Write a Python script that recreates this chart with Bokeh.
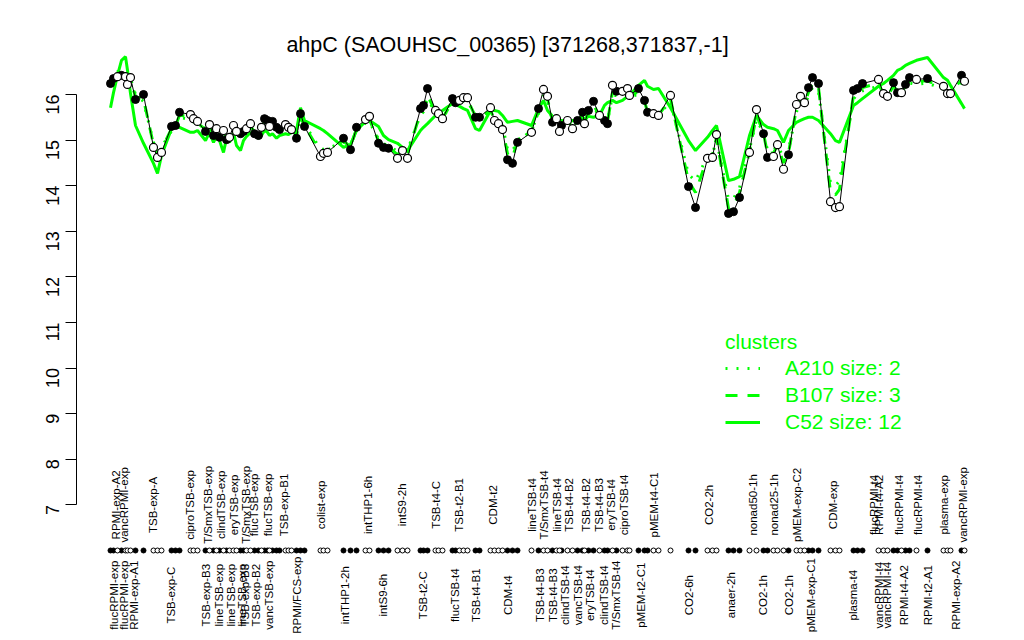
import math
from bokeh.plotting import figure
from bokeh.models import Range1d, LinearAxis, FixedTicker, Legend, LegendItem
from bokeh.core.properties import value
from bokeh.embed import file_html
from bokeh.resources import INLINE

title_text = "ahpC (SAOUHSC_00365) [371268,371837,-1]"

# position of each sample along the condition ordering
xpos = [110, 113, 117, 121, 125, 127, 130, 135, 143,
        153, 157, 161,
        171, 175, 179,
        190, 193, 197,
        205, 209, 213, 216, 219, 223, 226, 229, 233, 236, 240, 243, 246, 250, 254, 258, 261, 264, 267, 269, 272, 276, 279,
        285, 288, 291,
        296, 300, 304,
        320, 323, 327,
        343, 350, 356,
        365, 369,
        378, 383, 388,
        397, 402, 407,
        420, 423, 427,
        435, 438, 442,
        452, 455, 459, 463, 467, 475, 479,
        490, 494, 498, 502, 507, 512, 517,
        531, 538, 543, 547, 552, 556, 559, 561, 567, 572, 577, 582, 584, 588, 593, 599, 604, 607, 612, 616, 622, 627, 629,
        638, 644, 647, 653, 658, 670,
        688, 695,
        707, 712, 716,
        728, 733, 739,
        749, 756, 763, 767, 773, 777, 783, 788,
        796, 800, 804, 808, 812, 818,
        830, 835, 839,
        853, 857, 862,
        878, 883, 887, 893, 897, 901, 905, 909, 916,
        927,
        943, 947, 950,
        961, 964]

# expression of this gene
expr = [16.24, 16.35, 16.39, 16.42, 16.39, 16.22, 16.37, 15.89, 16.00,
        14.84, 14.62, 14.73,
        15.30, 15.32, 15.61,
        15.56, 15.47, 15.41,
        15.19, 15.34, 15.10, 15.25, 15.06, 15.21, 15.01, 15.06, 15.32, 15.19, 15.14, 15.19, 15.25, 15.36, 15.14, 15.10, 15.28, 15.47, 15.43, 15.30, 15.41, 15.28, 15.23,
        15.34, 15.28, 15.23,
        15.04, 15.58, 15.30,
        14.64, 14.71, 14.73,
        15.04, 14.79, 15.28,
        15.45, 15.52,
        14.93, 14.84, 14.82,
        14.60, 14.77, 14.60,
        15.69, 15.76, 16.13,
        15.65, 15.58, 15.47,
        15.91, 15.82, 15.87, 15.93, 15.93, 15.50, 15.50,
        15.71, 15.43, 15.36, 15.23, 14.57, 14.49, 14.95,
        15.17, 15.69, 16.11, 15.96, 15.39, 15.47, 15.19, 15.32, 15.43, 15.25, 15.43, 15.61, 15.36, 15.65, 15.85, 15.54, 15.43, 15.36, 16.20, 16.07, 16.07, 16.13, 15.98,
        16.13, 15.87, 15.61, 15.58, 15.54, 15.98,
        13.98, 13.52,
        14.60, 14.62, 15.12,
        13.39, 13.43, 13.74,
        14.73, 15.67, 15.14, 14.62, 14.64, 14.90, 14.36, 14.68,
        15.78, 15.96, 15.82, 16.15, 16.37, 16.24,
        13.65, 13.52, 13.54,
        16.09, 16.13, 16.24,
        16.33, 16.02, 15.96, 16.26, 16.04, 16.04, 16.22, 16.37, 16.33,
        16.35,
        16.18, 16.02, 16.02,
        16.42, 16.29]

# 1 = filled marker, 0 = open marker
filled = [1, 1, 0, 1, 0, 0, 0, 1, 1,
          0, 0, 0,
          1, 1, 1,
          0, 0, 0,
          1, 0, 1, 0, 1, 0, 1, 0, 0, 0, 1, 1, 0, 0, 1, 1, 0, 1, 1, 0, 1, 1, 1,
          0, 0, 0,
          1, 1, 1,
          0, 0, 0,
          1, 1, 1,
          0, 0,
          1, 1, 1,
          0, 0, 0,
          1, 1, 1,
          0, 0, 0,
          1, 1, 0, 0, 0, 1, 1,
          0, 0, 0, 0, 1, 1, 1,
          0, 1, 0, 0, 1, 0, 0, 1, 0, 0, 1, 1, 0, 1, 1, 0, 1, 1, 0, 1, 0, 0, 0,
          1, 1, 1, 0, 0, 0,
          1, 1,
          0, 0, 0,
          1, 1, 1,
          0, 0, 1, 1, 0, 0, 0, 1,
          0, 0, 0, 1, 1, 1,
          0, 0, 0,
          1, 1, 1,
          0, 0, 0, 1, 1, 0, 1, 1, 0,
          1,
          0, 0, 0,
          1, 0]

# cluster profiles
c52 = [15.71, 16.04, 16.42, 16.75, 16.83, 16.53, 16.02, 15.32, 14.93,
       14.49, 14.27, 14.66,
       15.25, 15.28, 15.28,
       15.17, 15.17, 15.21,
       14.99, 15.17, 14.95, 15.08, 14.99, 14.73, 15.04, 14.95, 15.17, 14.88, 14.77, 14.99, 15.08, 15.17, 15.10, 15.04, 15.10, 15.21, 15.17, 15.10, 15.14, 15.04, 15.10,
       15.14, 15.12, 15.17,
       15.21, 15.71, 15.43,
       15.25, 15.21, 15.14,
       14.84, 14.90, 15.21,
       15.41, 15.43,
       15.30, 15.10, 15.01,
       14.93, 14.84, 14.77,
       15.21, 15.28, 15.36,
       15.54, 15.58, 15.65,
       15.80, 15.78, 15.74, 15.69, 15.65, 15.25, 15.21,
       15.65, 15.65, 15.63, 15.54, 15.39, 15.41, 15.43,
       15.32, 15.69, 15.87, 15.65, 15.52, 15.43, 15.41, 15.43, 15.39, 15.43, 15.41, 15.47, 15.47, 15.52, 15.50, 15.54, 15.76, 15.82, 15.87, 15.82, 15.87, 15.96, 15.98,
       16.20, 16.31, 16.18, 16.11, 16.13, 15.71,
       14.99, 14.77,
       15.06, 15.21, 15.32,
       14.11, 14.14, 14.20,
       15.10, 15.54, 15.34, 15.28, 15.25, 15.21, 14.95, 15.21,
       15.39, 15.43, 15.47, 15.50, 15.50, 15.43,
       15.14, 14.99, 14.95,
       15.76, 15.82, 15.91,
       16.18, 16.24, 16.31, 16.42, 16.53, 16.57, 16.64, 16.68, 16.75,
       16.81,
       16.37, 16.31, 16.20,
       15.80, 15.69]

b107 = [16.20, 16.30, 16.45, 16.50, 16.42, 16.30, 16.33, 15.95, 15.90,
        14.90, 14.70, 14.80,
        15.25, 15.30, 15.55,
        15.50, 15.42, 15.38,
        15.22, 15.30, 15.12, 15.22, 15.10, 15.18, 15.05, 15.08, 15.28, 15.20, 15.15, 15.20, 15.22, 15.32, 15.15, 15.12, 15.25, 15.42, 15.40, 15.30, 15.38, 15.28, 15.25,
        15.30, 15.28, 15.25,
        15.10, 15.50, 15.32,
        14.72, 14.75, 14.78,
        14.98, 14.85, 15.25,
        15.42, 15.45,
        14.98, 14.88, 14.85,
        14.68, 14.78, 14.70,
        15.60, 15.70, 15.98,
        15.62, 15.55, 15.48,
        15.85, 15.80, 15.85, 15.88, 15.88, 15.52, 15.50,
        15.65, 15.45, 15.38, 15.28, 14.70, 14.62, 14.98,
        15.20, 15.62, 15.98, 15.90, 15.40, 15.45, 15.25, 15.32, 15.40, 15.28, 15.42, 15.55, 15.38, 15.60, 15.78, 15.52, 15.45, 15.40, 16.05, 16.02, 16.05, 16.08, 15.98,
        16.05, 15.85, 15.62, 15.55, 15.55, 15.90,
        14.10, 13.85,
        14.62, 14.68, 15.05,
        13.50, 13.55, 13.85,
        14.75, 15.55, 15.15, 14.70, 14.72, 14.88, 14.50, 14.72,
        15.70, 15.90, 15.80, 16.05, 16.25, 16.15,
        13.85, 13.80, 13.92,
        15.98, 16.08, 16.15,
        16.25, 16.00, 15.95, 16.20, 16.05, 16.05, 16.18, 16.30, 16.28,
        16.30,
        16.15, 16.05, 16.05,
        16.32, 16.25]

a210 = [16.30, 16.40, 16.50, 16.55, 16.45, 16.35, 16.35, 16.00, 15.85,
        14.95, 14.75, 14.85,
        15.20, 15.35, 15.50,
        15.45, 15.40, 15.35,
        15.25, 15.28, 15.15, 15.20, 15.12, 15.15, 15.08, 15.10, 15.25, 15.22, 15.18, 15.20, 15.20, 15.30, 15.18, 15.15, 15.22, 15.38, 15.38, 15.30, 15.35, 15.30, 15.28,
        15.28, 15.28, 15.28,
        15.15, 15.45, 15.35,
        14.80, 14.80, 14.82,
        14.95, 14.90, 15.20,
        15.38, 15.40,
        15.02, 14.92, 14.88,
        14.75, 14.80, 14.78,
        15.55, 15.62, 15.90,
        15.60, 15.55, 15.50,
        15.80, 15.78, 15.82, 15.85, 15.85, 15.55, 15.52,
        15.60, 15.48, 15.40, 15.32, 14.80, 14.75, 15.00,
        15.22, 15.58, 15.90, 15.85, 15.42, 15.45, 15.28, 15.33, 15.40, 15.30, 15.40, 15.50, 15.40, 15.55, 15.72, 15.52, 15.48, 15.42, 15.98, 15.98, 16.00, 16.02, 15.95,
        16.00, 15.82, 15.65, 15.55, 15.55, 15.85,
        14.25, 14.10,
        14.65, 14.70, 15.00,
        13.70, 13.72, 13.95,
        14.80, 15.45, 15.15, 14.78, 14.78, 14.88, 14.62, 14.78,
        15.62, 15.82, 15.75, 15.98, 16.15, 16.08,
        14.05, 14.00, 14.10,
        15.90, 16.02, 16.08,
        16.18, 15.98, 15.95, 16.15, 16.05, 16.05, 16.15, 16.25, 16.22,
        16.25,
        16.12, 16.05, 16.05,
        16.25, 16.22]

top_labels = ["RPMI-exp-A2", "vancRPMI-exp", "TSB-exp-A", "ciproTSB-exp", "T/SmxTSB-exp",
              "clindTSB-exp", "eryTSB-exp", "T/SmxTSB-exp", "flucTSB-exp", "flucTSB-exp",
              "TSB-exp-B1", "colist-exp", "intTHP1-6h", "intS9-2h", "TSB-t4-C", "TSB-t2-B1",
              "CDM-t2", "lineTSB-t4", "T/SmxTSB-t4", "lineTSB-t4", "TSB-t4-B2", "TSB-t4-B2",
              "TSB-t4-B3", "eryTSB-t4", "ciproTSB-t4", "pMEM-t4-C1", "CO2-2h", "nonad50-1h",
              "nonad25-1h", "pMEM-exp-C2", "CDM-exp", "flucRPMI-t4", "RPMI-t4-A2",
              "flucRPMI-t4", "flucRPMI-t4", "plasma-exp", "vancRPMI-exp"]
top_x = [115, 123, 152, 189, 207, 220, 233, 245, 253, 267, 283, 320, 367, 401, 435, 458,
         492, 531, 543, 556, 568, 585, 598, 610, 623, 653, 708, 752, 773, 796, 832, 873,
         878, 898, 917, 943, 962]

bottom_labels = ["flucRPMI-exp", "flucRPMI-exp", "RPMI-exp-A1", "TSB-exp-C", "TSB-exp-B3",
                 "lineTSB-exp", "lineTSB-exp", "lineTSB-exp", "TSB-exp-B3", "TSB-exp-B2",
                 "vancTSB-exp", "RPMI/FCS-exp", "intTHP1-2h", "intS9-6h", "TSB-t2-C",
                 "flucTSB-t4", "TSB-t4-B1", "CDM-t4", "TSB-t4-B3", "TSB-t4-B3", "clindTSB-t4",
                 "vancTSB-t4", "eryTSB-t4", "clindTSB-t4", "T/SmxTSB-t4", "pMEM-t2-C1",
                 "CO2-6h", "anaer-2h", "CO2-1h", "CO2-1h", "pMEM-exp-C1", "plasma-t4",
                 "vancRPMI-t4", "vancRPMI-t4", "RPMI-t4-A2", "RPMI-t2-A1", "RPMI-exp-A2"]
bottom_x = [113, 123, 133, 170, 205, 218, 230, 241, 244, 255, 268, 296, 344, 382, 422,
            454, 475, 507, 539, 552, 564, 577, 589, 603, 615, 640, 688, 730, 762, 788, 810,
            852, 878, 886, 903, 927, 955]

y_ticks = [7, 8, 9, 10, 11, 12, 13, 14, 15, 16]
cluster_names = ["A210 size: 2", "B107 size: 3", "C52 size: 12"]

n = len(xpos)
assert all(len(a) == n for a in (expr, filled, c52, b107, a210))
assert len(top_labels) == len(top_x) and len(bottom_labels) == len(bottom_x)

TOP_LEVEL, ROW_LEVEL, BOTTOM_LEVEL = 7, 6, 5.02
FONT = value("Liberation Sans")
GREEN = "#00FF00"

p = figure(width=1016, height=636, output_backend="svg", toolbar_location=None,
           x_range=Range1d(76, 1016), y_range=Range1d(4.114, 18.061),
           x_axis_type=None, y_axis_type=None,
           min_border_left=76, min_border_right=0, min_border_top=0, min_border_bottom=0)
p.outline_line_color = None
p.background_fill_color = "white"

ax = LinearAxis(ticker=FixedTicker(ticks=y_ticks), bounds=(7, 16))
ax.major_label_orientation = math.pi / 2
ax.major_tick_out = 11
ax.major_tick_in = 0
ax.minor_tick_line_color = None
ax.major_label_standoff = 13
ax.major_label_text_font = "Liberation Sans"
ax.major_label_text_font_size = "18px"
ax.major_label_text_color = "black"
ax.axis_line_color = "black"
ax.major_tick_line_color = "black"
p.add_layout(ax, "left")

# cluster lines
r_a = p.line(xpos, a210, line_color=GREEN, line_width=3, line_dash="2 9")
r_b = p.line(xpos, b107, line_color=GREEN, line_width=3, line_dash="12 10")
r_c = p.line(xpos, c52, line_color=GREEN, line_width=3)

# gene profile
p.line(xpos, expr, line_color="black", line_width=1)
fx = [x for x, f in zip(xpos, filled) if f]
fy = [y for y, f in zip(expr, filled) if f]
ox = [x for x, f in zip(xpos, filled) if not f]
oy = [y for y, f in zip(expr, filled) if not f]
p.scatter(fx, fy, size=8, fill_color="black", line_color="black", line_width=1)
p.scatter(ox, oy, size=8, fill_color="white", line_color="black", line_width=1.2)

# sample row
p.scatter(fx, [ROW_LEVEL] * len(fx), size=5, fill_color="black", line_color="black", line_width=1)
p.scatter(ox, [ROW_LEVEL] * len(ox), size=5, fill_color="white", line_color="black", line_width=1)

p.text(top_x, [TOP_LEVEL] * len(top_x), text=top_labels, angle=math.pi / 2,
       text_align="center", text_baseline="middle", text_font=FONT,
       text_font_size="11.5px", text_color="black")
p.text(bottom_x, [BOTTOM_LEVEL] * len(bottom_x), text=bottom_labels, angle=math.pi / 2,
       text_align="center", text_baseline="middle", text_font=FONT,
       text_font_size="11.5px", text_color="black")

# title
p.text([507], [17.075], text=[title_text], text_align="center", text_baseline="middle",
       text_font=FONT, text_font_size="21.5px", text_color="black")

legend = Legend(items=[LegendItem(label=cluster_names[0], renderers=[r_a]),
                       LegendItem(label=cluster_names[1], renderers=[r_b]),
                       LegendItem(label=cluster_names[2], renderers=[r_c])],
                location=(649, 202), title="clusters")
legend.title_text_color = GREEN
legend.title_text_font = "Liberation Sans"
legend.title_text_font_size = "21px"
legend.title_text_font_style = "normal"
legend.title_standoff = 2
legend.label_text_color = GREEN
legend.label_text_font = "Liberation Sans"
legend.label_text_font_size = "21px"
legend.label_standoff = 25
legend.glyph_width = 35
legend.glyph_height = 20
legend.label_height = 20
legend.spacing = 3
legend.padding = 0
legend.margin = 0
legend.border_line_alpha = 0
legend.background_fill_alpha = 0
p.add_layout(legend, "center")

open("out.html", "w").write(file_html(p, INLINE))
